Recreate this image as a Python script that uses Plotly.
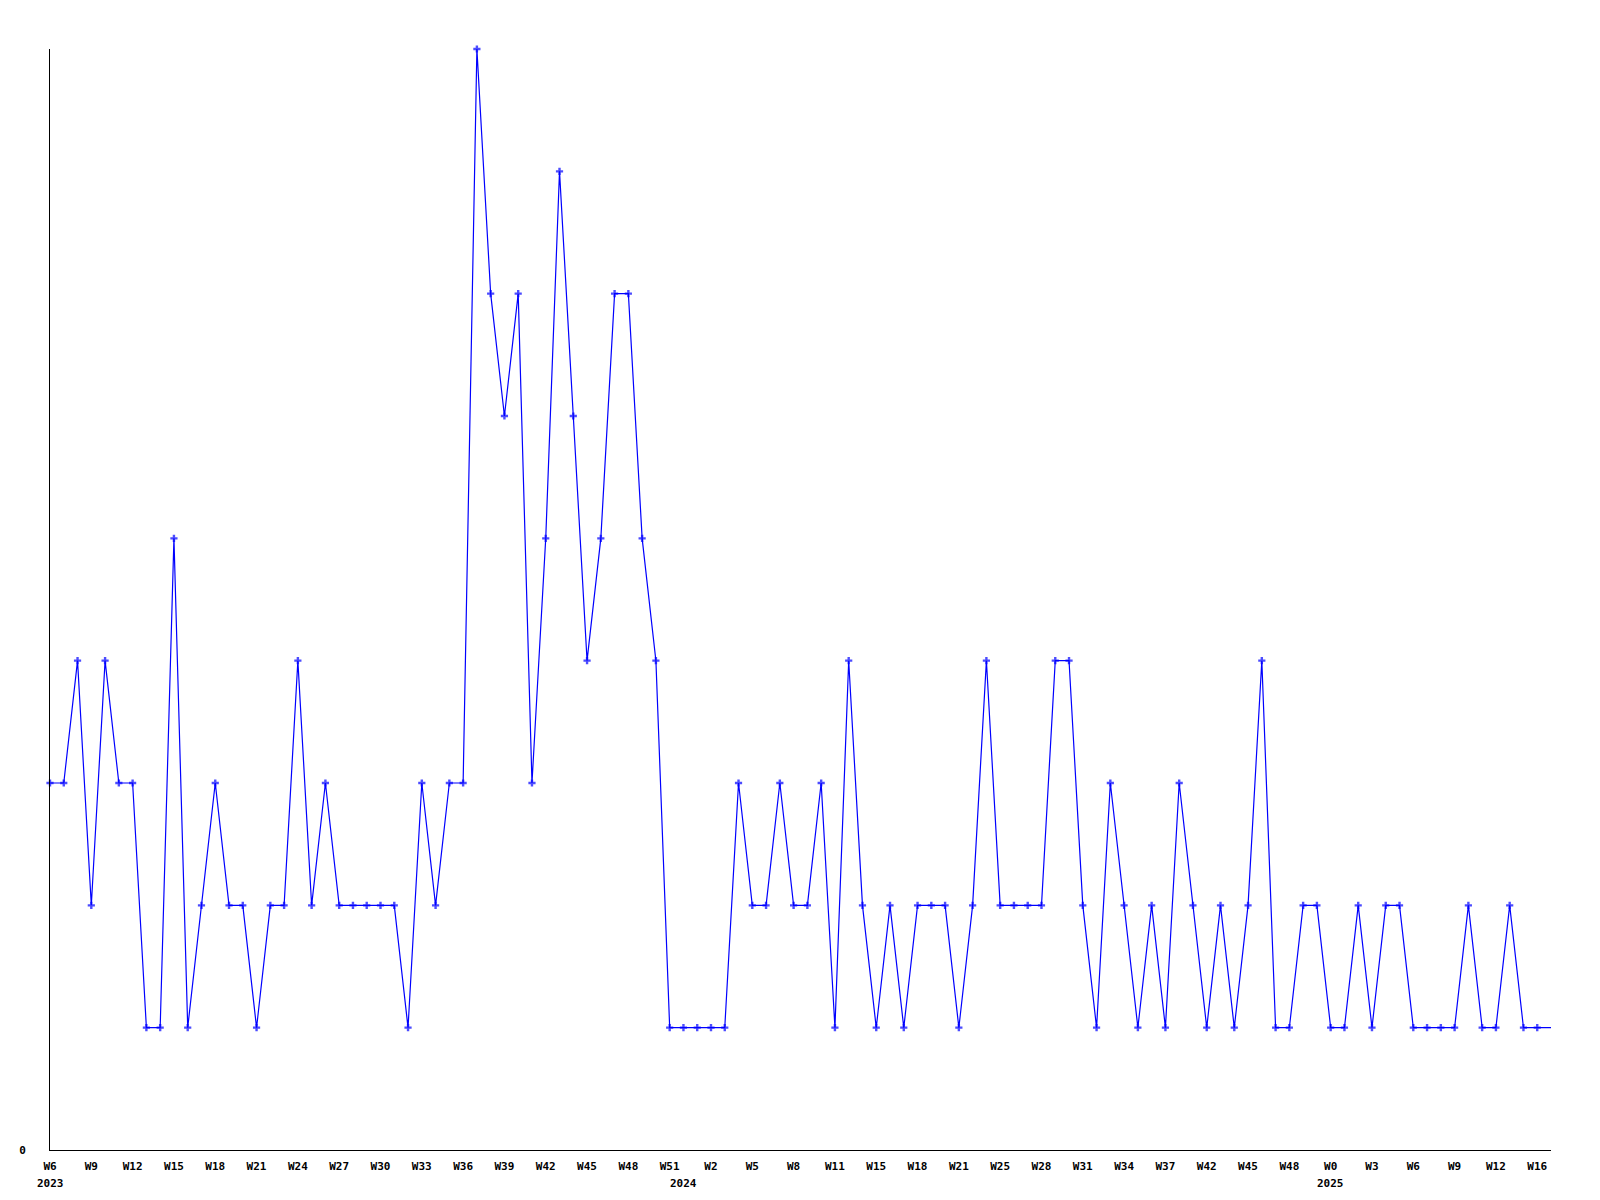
import plotly.graph_objects as go

# Week labels per year (weeks with no data are absent from the series)
weeks_2023 = [f"W{w}" for w in range(6, 52)]
weeks_2024 = (["W0", "W1", "W2"] + [f"W{w}" for w in range(3, 13)]
              + [f"W{w}" for w in range(14, 23)] + [f"W{w}" for w in range(24, 38)]
              + ["W39", "W40"] + [f"W{w}" for w in range(42, 49)] + ["W50", "W52"])
weeks_2025 = ["W0", "W1", "W2", "W3", "W4", "W5", "W6", "W7", "W8", "W9",
              "W10", "W11", "W12", "W14", "W15", "W16", "W17"]

counts = [3, 3, 4, 2, 4, 3, 3, 1, 1, 5, 1, 2, 3, 2, 2, 1, 2, 2, 4, 2,
          3, 2, 2, 2, 2, 2, 1, 3, 2, 3, 3, 9, 7, 6, 7, 3, 5, 8, 6, 4,
          5, 7, 7, 5, 4, 1, 1, 1, 1, 1, 3, 2, 2, 3, 2, 2, 3, 1, 4, 2,
          1, 2, 1, 2, 2, 2, 1, 2, 4, 2, 2, 2, 2, 4, 4, 2, 1, 3, 2, 1,
          2, 1, 3, 2, 1, 2, 1, 2, 4, 1, 1, 2, 2, 1, 1, 2, 1, 2, 2, 1,
          1, 1, 1, 2, 1, 1, 2, 1, 1, 1]

year_names = ["2023", "2024", "2025"]
year_weeks = [weeks_2023, weeks_2024, weeks_2025]

categories = []
tick_text_all = []
year_first = []
for yname, wl in zip(year_names, year_weeks):
    year_first.append(f"{yname}-{wl[0]}")
    for w in wl:
        categories.append(f"{yname}-{w}")
        tick_text_all.append(w)

tickvals = categories[::3]
ticktext = tick_text_all[::3]

marker_sizes = [6] * (len(counts) - 1) + [0]

font_family = "DejaVu Sans Mono"

fig = go.Figure()
fig.add_trace(go.Scatter(
    x=categories, y=counts, mode="lines+markers",
    line=dict(color="#0000FF", width=1.2),
    marker=dict(symbol="cross", size=marker_sizes, color="#0000FF", line=dict(width=0)),
    cliponaxis=False, showlegend=False, hoverinfo="x+y",
))

for yname, cat in zip(year_names, year_first):
    fig.add_annotation(x=cat, y=0, xref="x", yref="paper", text=f"<b>{yname}</b>",
                       showarrow=False, yanchor="middle", xanchor="center", yshift=-33,
                       font=dict(family=font_family, size=11, color="black"))

fig.update_layout(
    width=1584, height=1184,
    margin=dict(l=42, r=41, t=41, b=42),
    plot_bgcolor="white", paper_bgcolor="white",
    font=dict(family=font_family, size=11, color="black"),
)
fig.update_xaxes(
    type="category", range=[0, len(categories) - 1],
    tickmode="array", tickvals=tickvals, ticktext=[f"<b>{t}</b>" for t in ticktext],
    showgrid=False, zeroline=False, showline=True, linecolor="black", linewidth=1,
    ticks="", ticklabelstandoff=6,
    tickfont=dict(family=font_family, size=11, color="black"),
)
fig.update_yaxes(
    range=[0, 9], tickmode="array", tickvals=[0], ticktext=["<b>0</b>"],
    showgrid=False, zeroline=False, showline=True, linecolor="black", linewidth=1,
    ticks="", ticklabelstandoff=21,
    tickfont=dict(family=font_family, size=11, color="black"),
)

fig.write_html("out.html")
